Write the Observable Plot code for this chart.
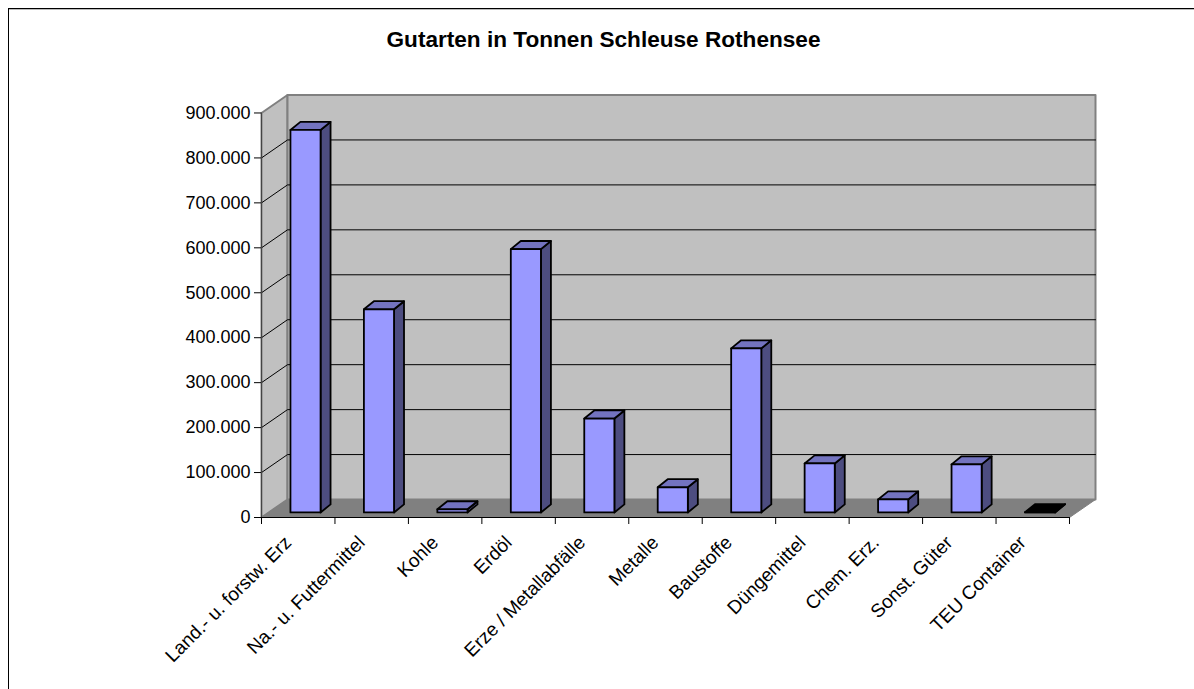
<!DOCTYPE html>
<html><head><meta charset="utf-8">
<script src="https://cdn.jsdelivr.net/npm/d3@7"></script>
<script src="https://cdn.jsdelivr.net/npm/@observablehq/plot@0.6"></script>
<style>
html,body{margin:0;padding:0;background:#fff;overflow:hidden;width:1194px;height:689px}
#wrap{position:relative;width:1194px;height:689px;overflow:hidden}
#border{position:absolute;left:8px;top:8px;width:1300px;height:800px;border-left:1px solid #000;border-top:1px solid #000;box-shadow:inset 0 1px 0 #bbb}
#title{position:absolute;left:0;top:27px;width:1207px;text-align:center;font:bold 22.6px "Liberation Sans",Arial,sans-serif;color:#000}
svg{position:absolute;left:0;top:0}
</style></head><body>
<div id="wrap"><div id="border"></div><div id="title">Gutarten in Tonnen Schleuse Rothensee</div></div>
<script>
const categories = ["Land.- u. forstw. Erz","Na.- u. Futtermittel","Kohle","Erdöl","Erze / Metallabfälle","Metalle","Baustoffe","Düngemittel","Chem. Erz.","Sonst. Güter","TEU Container"];
const tonnes = [851000,452000,7000,586000,209000,56000,365000,109000,29000,107000,500];
const yTicks = [0,100000,200000,300000,400000,500000,600000,700000,800000,900000];
const barColors = {front:"#9999ff",side:"#4d4d80",top:"#7373bf"};
const emptyColor = "#000000";

// oblique projection, in data units: wall depth and bar depth/placement
const yMax = 900000, wallDX = 0.354, wallDY = 40000;
const barW = 0.41, barDX = 0.136, barDY = 18000, barLift = 0.28;

const wallFaces = [
  {id:"left",pts:[[0,0],[wallDX,wallDY],[wallDX,yMax+wallDY],[0,yMax]]},
  {id:"back",pts:[[wallDX,wallDY],[11+wallDX,wallDY],[11+wallDX,yMax+wallDY],[wallDX,yMax+wallDY]]}
];
const floorFace = [[0,0],[11,0],[11+wallDX,wallDY],[wallDX,wallDY]];
const closed = f => f.pts.concat([f.pts[0]]).map(([x,y]) => ({id:f.id,x,y}));
const wallPts = wallFaces.flatMap(closed);
const floorPts = closed({id:"floor",pts:floorFace});
const gridPts = yTicks.filter(v => v>0 && v<yMax).flatMap(v => [
  {id:v,x:0,y:v},{id:v,x:wallDX,y:v+wallDY},{id:v,x:11+wallDX,y:v+wallDY}]);

const barFaces = categories.flatMap((c,i) => {
  const v = tonnes[i];
  const x0 = i + 0.5 + barLift*wallDX - barW/2, x1 = x0 + barW;
  const b = barLift*wallDY, t = b + v;
  const empty = v < 1000;
  const col = k => empty ? emptyColor : barColors[k];
  return [
    {id:i+"s",fill:col("side"),pts:[[x1,b],[x1+barDX,b+barDY],[x1+barDX,t+barDY],[x1,t]]},
    {id:i+"t",fill:col("top"),pts:[[x0,t],[x1,t],[x1+barDX,t+barDY],[x0+barDX,t+barDY]]},
    {id:i+"f",fill:col("front"),pts:[[x0,b],[x1,b],[x1,t],[x0,t]]}
  ];
}).flatMap(f => closed(f).map(p => ({...p,fill:f.fill})));

const fmt = d => d.toLocaleString("de-DE");

const chart = Plot.plot({
  width:1194, height:689,
  marginLeft:261, marginRight:99, marginTop:94.5, marginBottom:172,
  style:{background:"transparent",fontFamily:"'Liberation Sans',Arial,sans-serif",fontSize:"18px",color:"#000",overflow:"visible"},
  x:{type:"linear",domain:[0,11+wallDX],axis:null},
  y:{type:"linear",domain:[0,yMax+wallDY],axis:null},
  color:{type:"identity"},
  marks:[
    Plot.line(wallPts,{x:"x",y:"y",z:"id",fill:"#c0c0c0",stroke:"#808080",strokeWidth:2}),
    Plot.line(floorPts,{x:"x",y:"y",z:"id",fill:"#808080",stroke:"#808080",strokeWidth:1}),
    Plot.line(gridPts,{x:"x",y:"y",z:"id",stroke:"#000",strokeWidth:1}),
    Plot.ruleX([0],{y1:0,y2:yMax,stroke:"#444",strokeWidth:1}),
    Plot.ruleY([0],{x1:0,x2:11,stroke:"#000",strokeWidth:1}),
    Plot.line(barFaces,{x:"x",y:"y",z:"id",fill:"fill",stroke:"#000",strokeWidth:1.8,strokeLinejoin:"round"}),
    Plot.axisY({ticks:yTicks,tickFormat:fmt,tickSize:7,tickPadding:4,label:null,fontSize:18}),
    Plot.axisX({ticks:d3.range(12),tickFormat:()=>"",tickSize:7,label:null}),
    Plot.axisX({ticks:categories.map((c,i)=>i+0.5),tickFormat:x=>categories[Math.floor(x)],tickSize:0,tickRotate:-45,tickPadding:8,label:null,fontSize:19,textAnchor:"end",dx:-10,dy:14})
  ]
});
document.getElementById("wrap").appendChild(chart);
</script>
</body></html>
